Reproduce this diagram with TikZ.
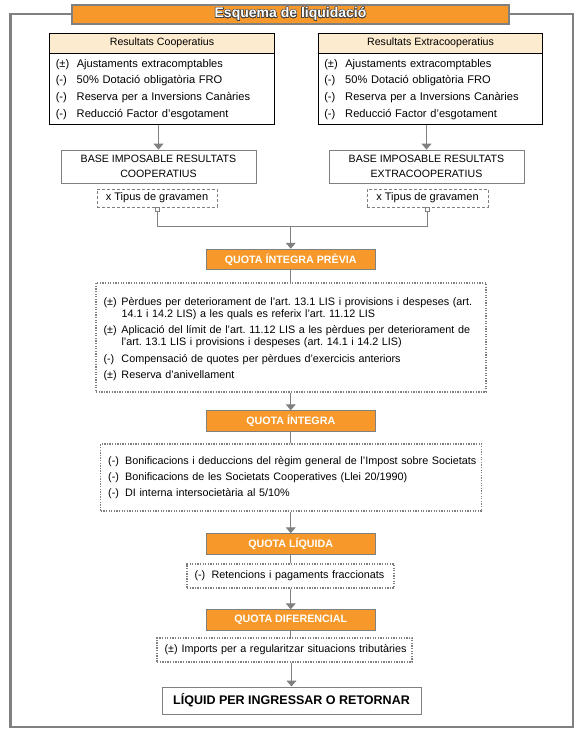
\documentclass[tikz,border=0pt]{standalone}
\usepackage{fontspec}
\setmainfont{Liberation Sans}
\usepackage[copies]{contour}
\contourlength{0.55pt}
\usetikzlibrary{arrows.meta}
\definecolor{orangeq}{RGB}{247,153,42}
\definecolor{peach}{RGB}{253,235,208}
\definecolor{greyline}{RGB}{128,128,128}
\newcommand{\itm}[3][17pt]{\mbox{\makebox[#1][l]{#2}#3}}
\frenchspacing
\begin{document}
\begin{tikzpicture}[x=1pt,y=-1pt,>={Triangle[width=10pt,length=6pt]},
    frame/.style={draw=greyline,line width=2.6pt},
    titlebar/.style={fill=orangeq,draw=greyline,line width=2.2pt,minimum width=437pt,minimum height=19pt,inner sep=0pt,
        text=white,font=\fontsize{14}{16}\selectfont\bfseries},
    headbox/.style={draw=black,fill=peach,line width=0.8pt,minimum width=224.5pt,minimum height=20pt,inner sep=0pt,
        font=\fontsize{10.6}{12}\selectfont},
    listbox/.style={draw=black,line width=0.8pt,inner sep=0pt,inner xsep=6pt,text width=212.5pt,minimum height=71pt,
        align=left,font=\fontsize{11.1}{16.7}\selectfont},
    basebox/.style={draw=greyline,line width=0.8pt,minimum width=195pt,minimum height=33pt,inner sep=0pt,align=center,
        font=\fontsize{10.6}{15}\selectfont},
    ratebox/.style={draw=greyline,line width=0.8pt,dash pattern=on 3pt off 2pt,minimum width=120pt,minimum height=18pt,
        inner sep=0pt,font=\fontsize{11}{12}\selectfont},
    mark box/.style={draw=greyline,fill=white,line width=0.6pt,minimum size=4pt,inner sep=0pt},
    quota/.style={fill=orangeq,draw=greyline,line width=1pt,minimum width=169.5pt,minimum height=20.5pt,inner sep=0pt,
        text=white,font=\fontsize{10.7}{12}\selectfont\bfseries},
    notebox/.style={draw=greyline,line width=1.3pt,dash pattern=on 1.3pt off 1.3pt,inner sep=0pt,inner xsep=7.5pt,
        align=left,font=\fontsize{10.8}{12}\selectfont},
    endbox/.style={draw=greyline,line width=1pt,minimum width=259pt,minimum height=27pt,inner sep=0pt,
        font=\fontsize{12.5}{14}\selectfont\bfseries},
    line/.style={draw=greyline,line width=1pt},
    arrow/.style={line,->}]
  \useasboundingbox (0,0) rectangle (587,742);
  % outer frame and title
  \draw[frame] (10.5,14) rectangle (573,727);
  \node[titlebar] (title) at (290.5,14.5) {\contour{black!75}{Esquema de liquidació}};
  % two kinds of result
  \node[headbox] (coophead) at (162,43) {Resultats Cooperatius};
  \node[listbox,anchor=north] (coopbody) at (coophead.south) {\itm[21pt]{(±)}{Ajustaments extracomptables}\\
      \itm[21pt]{(-)}{50\% Dotació obligatòria FRO}\\ \itm[21pt]{(-)}{Reserva per a Inversions Canàries}\\
      \itm[21pt]{(-)}{Reducció Factor d’esgotament}};
  \node[headbox] (extrahead) at (430.5,43) {Resultats Extracooperatius};
  \node[listbox,anchor=north] (extrabody) at (extrahead.south) {\itm[21pt]{(±)}{Ajustaments extracomptables}\\
      \itm[21pt]{(-)}{50\% Dotació obligatòria FRO}\\ \itm[21pt]{(-)}{Reserva per a Inversions Canàries}\\
      \itm[21pt]{(-)}{Reducció Factor d’esgotament}};
  \node[basebox] (basecoop) at (158.5,166.5) {BASE IMPOSABLE RESULTATS\\COOPERATIUS};
  \node[basebox] (baseextra) at (426.5,166.5) {BASE IMPOSABLE RESULTATS\\EXTRACOOPERATIUS};
  \node[ratebox] (ratecoop) at (157,198) {x Tipus de gravamen};
  \node[ratebox,minimum width=121pt] (rateextra) at (427.5,198) {x Tipus de gravamen};
  \node[mark box,anchor=north] (markcoop) at (ratecoop.south) {};
  \node[mark box,anchor=north] (markextra) at (rateextra.south) {};
  \coordinate (join) at (290.75,226.5);
  % chain of quotas
  \node[quota] (previa) at (290.75,259.5) {QUOTA ÍNTEGRA PRÈVIA};
  \node[notebox,text width=375pt,minimum height=109pt] (notesprevia) at (291,337.5) {%
      \rule{0pt}{11pt}\itm[18pt]{(±)}{\makebox[357pt][s]{Pèrdues per deteriorament de l’art. 13.1 LIS i provisions i despeses (art.}}\\
      \itm[18pt]{}{14.1 i 14.2 LIS) a les quals es referix l’art. 11.12 LIS}\\[4.3pt]
      \itm[18pt]{(±)}{\makebox[357pt][s]{Aplicació del límit de l’art. 11.12 LIS a les pèrdues per deteriorament de}}\\
      \itm[18pt]{}{l’art. 13.1 LIS i provisions i despeses (art. 14.1 i 14.2 LIS)}\\[4.3pt]
      \itm[18pt]{(-)}{Compensació de quotes per pèrdues d’exercicis anteriors}\\[4.3pt]
      \itm[18pt]{(±)}{Reserva d’anivellament}};
  \node[quota] (integra) at (290.75,421) {QUOTA ÍNTEGRA};
  \node[notebox,text width=366pt,minimum height=67pt,font=\fontsize{10.8}{16}\selectfont] (notesintegra) at (291.2,477.5) {%
      \itm{(-)}{Bonificacions i deduccions del règim general de l’Impost sobre Societats}\\
      \itm{(-)}{Bonificacions de les Societats Cooperatives (Llei 20/1990)}\\
      \itm{(-)}{DI interna intersocietària al 5/10\%}};
  \node[quota] (liquida) at (290.75,544) {QUOTA LÍQUIDA};
  \node[notebox,text width=192pt,minimum height=24pt] (notesliquida) at (290.5,576) {%
      \itm{(-)}{Retencions i pagaments fraccionats}};
  \node[quota] (diferencial) at (290.75,620) {QUOTA DIFERENCIAL};
  \node[notebox,text width=240pt,minimum height=24pt] (notesdif) at (284.5,650) {%
      \itm{(±)}{Imports per a regularitzar situacions tributàries}};
  \node[endbox] (final) at (291.5,700.5) {LÍQUID PER INGRESSAR O RETORNAR};
  % connectors
  \draw[arrow] (coopbody.south -| basecoop) -- (basecoop);
  \draw[arrow] (extrabody.south -| baseextra) -- (baseextra);
  \draw[line] (markcoop) |- (join) -| (markextra);
  \draw[arrow] (join) -- (previa);
  \draw[line] (previa) -- (previa |- notesprevia.north);
  \draw[arrow] (notesprevia.south -| integra) -- (integra);
  \draw[line] (integra) -- (integra |- notesintegra.north);
  \draw[arrow] (notesintegra.south -| liquida) -- (liquida);
  \draw[line] (liquida) -- (liquida |- notesliquida.north);
  \draw[arrow] (notesliquida.south -| diferencial) -- (diferencial);
  \draw[line] (diferencial) -- (diferencial |- notesdif.north);
  \draw[arrow] (notesdif.south -| final) -- (final);
\end{tikzpicture}
\end{document}
